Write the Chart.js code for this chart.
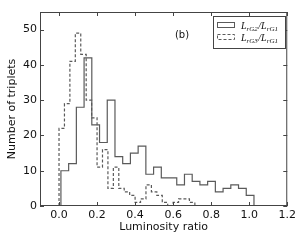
<!DOCTYPE html>
<html>
<head>
<meta charset="utf-8">
<script src="https://cdn.jsdelivr.net/npm/chart.js@4/dist/chart.umd.min.js"></script>
<style>
  html, body { margin: 0; padding: 0; background: #fff; }
  canvas { display: block; }
</style>
</head>
<body>
<canvas id="histChart" width="299" height="240"></canvas>
<script>
// histogram counts (25 bins each)
const solidCounts = [10, 12, 28, 42, 23, 18, 30, 14, 12, 15, 17, 9, 11, 8, 8, 6, 9, 7, 6, 7, 4, 5, 6, 5, 3];
const dashedCounts = [22, 29, 41, 49, 43, 30, 25, 11, 16, 5, 11, 5, 4, 3, 1, 2, 6, 4, 3, 1, 0, 1, 2, 2, 1];

// bin layout: first edge and bin width
const solidBins = { start: 0.01, width: 0.0406 };
const dashedBins = { start: 0.0, width: 0.02857 };

const seriesNames = ['L_rG2/L_rG1', 'L_rG3/L_rG1'];
const panelLabel = '(b)';

const xTicks = [0.0, 0.2, 0.4, 0.6, 0.8, 1.0, 1.2];
const yTicks = [0, 10, 20, 30, 40, 50];

const lineColor = '#5a5a5a';
const frameColor = '#444';

// turn bin counts into the outline points of a step histogram
function stepPoints(bins, counts) {
    const pts = [{ x: bins.start, y: 0 }];
    counts.forEach(function(c, i) {
        pts.push({ x: bins.start + i * bins.width, y: c });
    });
    pts.push({ x: bins.start + counts.length * bins.width, y: 0 });
    return pts;
}

// frame, inward ticks, legend and panel label
const decorPlugin = {
    id: 'decor',
    afterDraw(chart) {
        const ctx = chart.ctx;
        const a = chart.chartArea;
        const xs = chart.scales.x;
        const ys = chart.scales.y;
        ctx.save();
        ctx.strokeStyle = frameColor;
        ctx.lineWidth = 1;
        ctx.strokeRect(a.left + 0.5, a.top + 0.5, a.right - a.left - 1, a.bottom - a.top - 1);

        // ticks pointing inwards on all four sides
        ctx.beginPath();
        xTicks.forEach(function(v) {
            const px = Math.round(xs.getPixelForValue(v)) + 0.5;
            ctx.moveTo(px, a.bottom);
            ctx.lineTo(px, a.bottom - 4);
            ctx.moveTo(px, a.top);
            ctx.lineTo(px, a.top + 4);
        });
        yTicks.forEach(function(v) {
            const py = Math.round(ys.getPixelForValue(v)) + 0.5;
            ctx.moveTo(a.left, py);
            ctx.lineTo(a.left + 4, py);
            ctx.moveTo(a.right, py);
            ctx.lineTo(a.right - 4, py);
        });
        ctx.stroke();

        // panel label
        ctx.fillStyle = '#111';
        ctx.font = '10px "DejaVu Sans"';
        ctx.textAlign = 'center';
        ctx.textBaseline = 'middle';
        ctx.fillText(panelLabel, 182, 35);

        // legend box
        const lx = 213.5, ly = 16.5, lw = 72, lh = 32;
        ctx.fillStyle = '#fff';
        ctx.fillRect(lx, ly, lw, lh);
        ctx.strokeStyle = frameColor;
        ctx.strokeRect(lx, ly, lw, lh);

        ctx.textAlign = 'left';
        ctx.textBaseline = 'alphabetic';
        chart.data.datasets.forEach(function(ds, i) {
            const rowY = 25 + i * 12;
            ctx.save();
            ctx.strokeStyle = lineColor;
            ctx.lineWidth = 1;
            ctx.setLineDash(ds.borderDash || []);
            ctx.strokeRect(217.5, rowY - 2.5, 17, 5);
            ctx.restore();

            // label with subscripts
            let tx = 241;
            const base = rowY + 3.5;
            ctx.fillStyle = '#111';
            seriesNames[i].split('/').forEach(function(part, j) {
                if (j > 0) {
                    ctx.font = 'italic 10px "Liberation Serif"';
                    ctx.fillText('/', tx, base);
                    tx += ctx.measureText('/').width;
                }
                const bits = part.split('_');
                ctx.font = 'italic 10px "Liberation Serif"';
                ctx.fillText(bits[0], tx, base);
                tx += ctx.measureText(bits[0]).width;
                ctx.font = 'italic 7px "Liberation Serif"';
                ctx.fillText(bits[1], tx, base + 2);
                tx += ctx.measureText(bits[1]).width + 0.5;
            });
        });
        ctx.restore();
    }
};

const ctx = document.getElementById('histChart').getContext('2d');
const histChart = new Chart(ctx, {
    type: 'line',
    data: {
        datasets: [{
            label: seriesNames[0],
            data: stepPoints(solidBins, solidCounts),
            borderColor: lineColor,
            borderWidth: 1.2,
            stepped: true,
            pointRadius: 0,
            fill: false
        }, {
            label: seriesNames[1],
            data: stepPoints(dashedBins, dashedCounts),
            borderColor: lineColor,
            borderWidth: 1.2,
            borderDash: [3, 2],
            stepped: true,
            pointRadius: 0,
            fill: false
        }]
    },
    options: {
        responsive: false,
        animation: false,
        devicePixelRatio: 1,
        layout: { padding: { top: 12, right: 11, left: 0, bottom: 0 } },
        scales: {
            x: {
                type: 'linear',
                min: -0.1,
                max: 1.2,
                afterBuildTicks: function(scale) {
                    scale.ticks = xTicks.map(function(v) { return { value: v }; });
                },
                afterFit: function(scale) { scale.height = 34; },
                grid: { display: false, drawTicks: false },
                border: { display: false },
                ticks: {
                    color: '#111',
                    padding: 3,
                    font: { family: 'DejaVu Sans', size: 11 },
                    maxRotation: 0,
                    callback: function(v) { return v.toFixed(1); }
                },
                title: {
                    display: true,
                    text: 'Luminosity ratio',
                    color: '#111',
                    font: { family: 'DejaVu Sans', size: 11 },
                    padding: { top: 0, bottom: 6 }
                }
            },
            y: {
                type: 'linear',
                min: 0,
                max: 55,
                afterBuildTicks: function(scale) {
                    scale.ticks = yTicks.map(function(v) { return { value: v }; });
                },
                afterFit: function(scale) { scale.width = 40; },
                grid: { display: false, drawTicks: false },
                border: { display: false },
                ticks: {
                    color: '#111',
                    padding: 3,
                    font: { family: 'DejaVu Sans', size: 11 }
                },
                title: {
                    display: true,
                    text: 'Number of triplets',
                    color: '#111',
                    font: { family: 'DejaVu Sans', size: 11 },
                    padding: { top: 6, bottom: 0 }
                }
            }
        },
        plugins: {
            legend: { display: false },
            tooltip: { enabled: false }
        }
    },
    plugins: [decorPlugin]
});
</script>
</body>
</html>
